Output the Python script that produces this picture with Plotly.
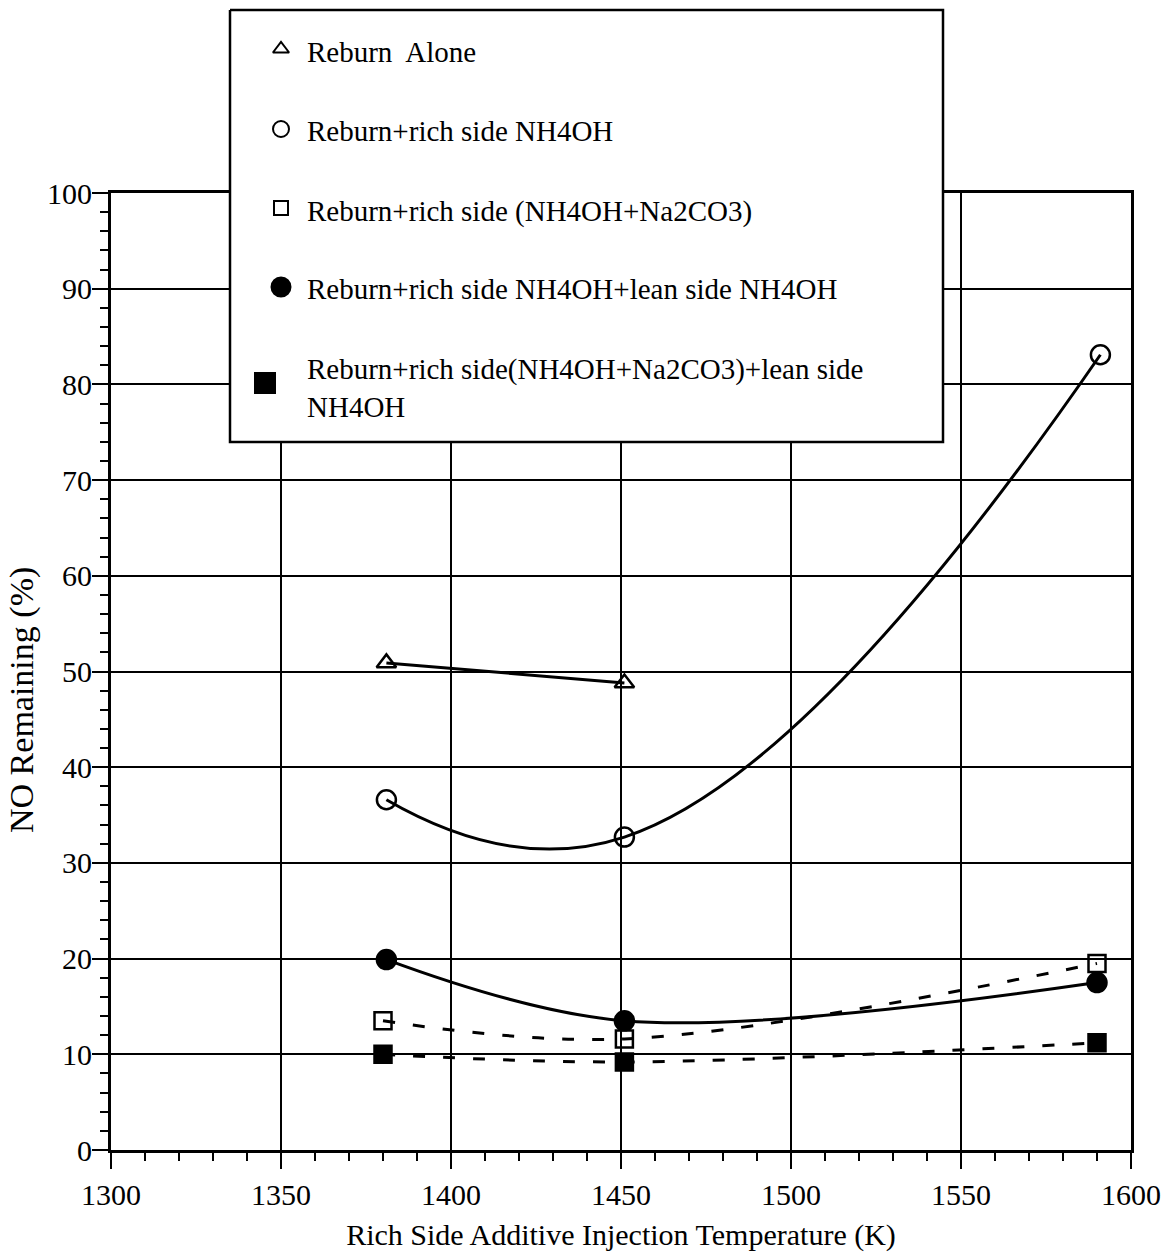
import plotly.graph_objects as go

# ---- data ----
temp_alone = [1381, 1451]
no_alone = [50.9, 48.8]

temp_rich = [1381, 1451, 1591]
no_rich = [36.6, 32.7, 83.1]

temp_rich_na = [1380, 1451, 1590]
no_rich_na = [13.5, 11.6, 19.5]

temp_rich_lean = [1381, 1451, 1590]
no_rich_lean = [19.9, 13.5, 17.5]

temp_rich_na_lean = [1380, 1451, 1590]
no_rich_na_lean = [10.0, 9.2, 11.2]

legend_labels = [
    "Reburn  Alone",
    "Reburn+rich side NH4OH",
    "Reburn+rich side (NH4OH+Na2CO3)",
    "Reburn+rich side NH4OH+lean side NH4OH",
    "Reburn+rich side(NH4OH+Na2CO3)+lean side<br>NH4OH",
]

x_ticks = [1300, 1350, 1400, 1450, 1500, 1550, 1600]
y_ticks = [0, 10, 20, 30, 40, 50, 60, 70, 80, 90, 100]

# ---- layout geometry ----
W, H = 1165, 1253
FONT = "Liberation Serif"
PX_L, PX_R, PX_T, PX_B = 111, 1131, 193, 1150

fig = go.Figure()

series = [
    (temp_alone, no_alone, "triangle-up-open", 17, "solid", "linear", 1.0),
    (temp_rich, no_rich, "circle-open", 19, "solid", "spline", 1.3),
    (temp_rich_na, no_rich_na, "square-open", 17, "12px,18px", "spline", 1.0),
    (temp_rich_lean, no_rich_lean, "circle", 19, "solid", "spline", 1.0),
    (temp_rich_na_lean, no_rich_na_lean, "square", 17, "12px,18px", "spline", 1.0),
]

for xs, ys, sym, sz, dash, shape, smooth in series:
    fig.add_trace(go.Scatter(
        x=xs, y=ys, mode="lines+markers",
        line=dict(color="black", width=3, dash=dash, shape=shape,
                  smoothing=smooth),
        marker=dict(symbol=sym, size=sz, color="black",
                    line=dict(color="black", width=2.5)),
        showlegend=False, hoverinfo="skip",
        xaxis="x", yaxis="y",
    ))

# ---- legend box drawn in a pixel-coordinate overlay subplot ----
box_x = [230, 943, 943, 230, 230]
box_y = [10, 10, 442, 442, 10]
fig.add_trace(go.Scatter(
    x=box_x, y=box_y, mode="lines", fill="toself", fillcolor="white",
    line=dict(color="black", width=2.5), showlegend=False, hoverinfo="skip",
    xaxis="x2", yaxis="y2",
))

legend_marker_x = [281, 281, 281, 281, 265]
legend_marker_y = [49, 129, 208, 287, 383]
legend_text_y = [52, 131, 211, 289, 388]
for (xs, ys, sym, sz, dash, shape, smooth), mx, my, ty, lab in zip(
        series, legend_marker_x, legend_marker_y, legend_text_y, legend_labels):
    msz = sz - 3 if "open" in sym else sz
    if sym == "square":
        msz = 20
    fig.add_trace(go.Scatter(
        x=[mx], y=[my], mode="markers",
        marker=dict(symbol=sym, size=msz, color="black",
                    line=dict(color="black", width=2)),
        showlegend=False, hoverinfo="skip", xaxis="x2", yaxis="y2",
    ))
    fig.add_annotation(
        x=305, y=ty, xref="x2", yref="y2", text=lab, showarrow=False,
        xanchor="left", yanchor="middle", align="left",
        font=dict(family=FONT, size=29, color="black"),
    )

# y-axis title placed as rotated text
fig.add_annotation(
    x=22, y=700, xref="x2", yref="y2", text="NO Remaining (%)",
    showarrow=False, textangle=-90, xanchor="center", yanchor="middle",
    font=dict(family=FONT, size=34, color="black"),
)

axis_common = dict(
    showline=True, linecolor="black", linewidth=3, mirror=True,
    showgrid=True, gridcolor="black", gridwidth=2,
    ticks="outside", ticklen=16, tickwidth=2, tickcolor="black",
    tickfont=dict(family=FONT, size=30, color="black"),
    zeroline=False,
)

fig.update_layout(
    width=W, height=H,
    margin=dict(l=0, r=0, t=0, b=0, autoexpand=False),
    paper_bgcolor="white", plot_bgcolor="rgba(0,0,0,0)",
    showlegend=False,
    xaxis=dict(
        domain=[PX_L / W, PX_R / W], range=[1300, 1600],
        tickvals=x_ticks, ticktext=[str(v) for v in x_ticks],
        minor=dict(dtick=10, ticks="outside", ticklen=8, tickwidth=2,
                   tickcolor="black", showgrid=False),
        title=dict(text="Rich Side Additive Injection Temperature (K)",
                   font=dict(family=FONT, size=30, color="black"), standoff=14),
        anchor="y",
        **axis_common,
    ),
    yaxis=dict(
        domain=[1 - PX_B / H, 1 - PX_T / H], range=[0, 100],
        tickvals=y_ticks, ticktext=[str(v) for v in y_ticks],
        minor=dict(dtick=2, ticks="outside", ticklen=8, tickwidth=2,
                   tickcolor="black", showgrid=False),
        ticklabelstandoff=-6,
        anchor="x",
        **axis_common,
    ),
    xaxis2=dict(domain=[0, 1], range=[0, W], visible=False, anchor="y2",
                fixedrange=True, showgrid=False, zeroline=False),
    yaxis2=dict(domain=[0, 1], range=[H, 0], visible=False, anchor="x2",
                fixedrange=True, showgrid=False, zeroline=False),
)

fig.write_html("out.html")
